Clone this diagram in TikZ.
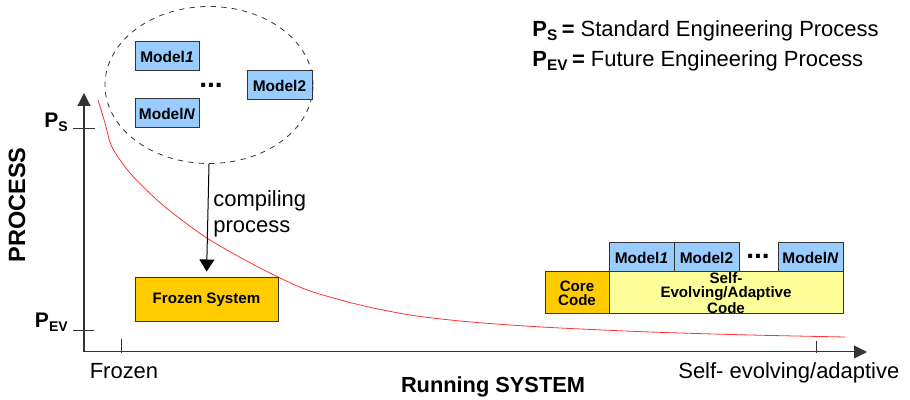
\documentclass[tikz,border=0pt]{standalone}
\usepackage{fontspec}
\setmainfont{Liberation Sans}
\usetikzlibrary{arrows.meta,shapes.geometric}
\definecolor{modelblue}{rgb}{0.600000,0.800000,1.000000}
\definecolor{coregold}{rgb}{1.000000,0.800000,0.000000}
\definecolor{paleyellow}{rgb}{1.000000,1.000000,0.600000}
\definecolor{boxgray}{rgb}{0.200000,0.200000,0.200000}
\definecolor{curvered}{rgb}{1.000000,0.200000,0.200000}
\tikzset{
  axisline/.style={line width=0.02cm, draw=boxgray},
  modelbox/.style={draw=boxgray, line width=0.02cm, fill=modelblue, inner sep=0pt,
    minimum width=1.30cm, minimum height=0.58cm,
    font=\bfseries\fontsize{8.8}{10}\selectfont},
  goldbox/.style={draw=boxgray, line width=0.02cm, fill=coregold, inner sep=0pt, align=center,
    font=\bfseries\fontsize{8.6}{8}\selectfont},
  evolvebox/.style={goldbox, fill=paleyellow},
  bigdots/.style={font=\bfseries\fontsize{16}{16}\selectfont, inner sep=0pt},
  plaintext/.style={font=\fontsize{12.5}{14.7}\selectfont, inner sep=0pt},
  boldtext/.style={font=\bfseries\fontsize{12.4}{14}\selectfont, inner sep=0pt}
}
\begin{document}
\begin{tikzpicture}
\useasboundingbox (0,0) rectangle (18.200000,8.000000);
{
% Axes with arrow tips
\coordinate (ytop) at (1.680000,6.140000);%
\coordinate (origin) at (1.680000,0.960000);%
\coordinate (xend) at (17.340000,0.960000);%
\draw [axisline, {Triangle[width=0.26cm,length=0.26cm]}-{Triangle[width=0.26cm,length=0.26cm]}] (ytop) -- (origin) -- (xend);%

% Ticks on the axes
\coordinate (pstick) at (1.460000,5.420000);%
\coordinate (pevtick) at (1.460000,1.380000);%
\coordinate (frozentick) at (2.420000,1.220000);%
\coordinate (selftick) at (16.320000,1.180000);%
\draw [axisline] (pstick) -- ++(0.440000,0);%
\draw [axisline] (pevtick) -- ++(0.420000,0);%
\draw [axisline] (frozentick) -- ++(0,-0.280000);%
\draw [axisline] (selftick) -- ++(0,-0.240000);%

% Axis labels
\node (pslabel) [anchor=base east, inner sep=0pt, font=\bfseries\fontsize{12}{14}\selectfont] at (1.380000,5.440000) {P\textsubscript{S}};%
\node (pevlabel) [anchor=base east, inner sep=0pt, font=\bfseries\fontsize{12}{14}\selectfont] at (1.380000,1.440000) {P\textsubscript{EV}};%
\node (processlabel) [boldtext, font=\bfseries\fontsize{13.4}{14}\selectfont, rotate=90] at (0.340000,3.900000) {PROCESS};%
\node (frozenlabel) [plaintext, anchor=base] at (2.480000,0.420000) {Frozen};%
\node (runninglabel) [boldtext, anchor=base] at (9.860000,0.140000) {Running SYSTEM};%
\node (selflabel) [plaintext, anchor=base west] at (13.560000,0.420000) {Self- evolving/adaptive};%

% Legend
\node (legendps) [plaintext, anchor=base west] at (10.640000,7.260000) {\textbf{P\textsubscript{S}\,=} Standard Engineering Process};%
\node (legendpev) [plaintext, anchor=base west] at (10.640000,6.660000) {\textbf{P\textsubscript{EV}\,=} Future Engineering Process};%

% Red curve
\draw [curvered, line width=0.016cm] plot [smooth, tension=0.5] coordinates {(1.960000,6.000000) (2.100000,5.540000) (2.240000,5.060000) (2.600000,4.540000) (3.140000,4.000000) (3.660000,3.580000) (4.200000,3.200000) (4.900000,2.800000) (5.560000,2.460000) (6.200000,2.180000) (7.200000,1.900000) (8.200000,1.700000) (9.200000,1.580000) (10.200000,1.500000) (11.200000,1.440000) (13.000000,1.360000) (15.000000,1.300000) (16.900000,1.260000)};%

% Pool of models
\node (pool) [ellipse, draw=boxgray, dashed, line width=0.016cm, minimum width=4.160000cm, minimum height=3.140000cm, inner sep=0pt] at (4.180000,6.300000) {};%
\node (poolone) [modelbox, minimum width=1.280000cm] at (3.340000,6.870000) {Model\textit{1}};%
\node (pooln) [modelbox, minimum width=1.280000cm] at (3.340000,5.730000) {Model\textit{N}};%
\node (pooltwo) [modelbox] at (5.590000,6.290000) {Model2};%
\node (pooldots) [bigdots] at (4.220000,6.300000) {...};%

% Compiling into the frozen system
\node (frozen) [goldbox, minimum width=2.860000cm, minimum height=0.880000cm] at (4.130000,2.000000) {Frozen System};%
\draw [line width=0.02cm, -{Triangle[width=0.30cm,length=0.24cm]}, shorten >=0.120000cm] (pool.south) -- (frozen.north);%
\node (compiling) [plaintext, align=left, anchor=north west] at (4.260000,4.200000) {compiling\\process};%

% Self-evolving system
\node (core) [goldbox, minimum width=1.280000cm, minimum height=0.840000cm] at (11.540000,2.140000) {Core\\Code};%
\node (evolving) [evolvebox, minimum width=4.680000cm, minimum height=0.840000cm] at (14.520000,2.140000) {Self-\\Evolving/Adaptive\\Code};%
\node (runone) [modelbox] at (12.830000,2.850000) {Model\textit{1}};%
\node (runtwo) [modelbox] at (14.130000,2.850000) {Model2};%
\node (rundots) [bigdots] at (15.160000,2.880000) {...};%
\node (runn) [modelbox] at (16.210000,2.850000) {Model\textit{N}};%
}
\end{tikzpicture}
\end{document}
